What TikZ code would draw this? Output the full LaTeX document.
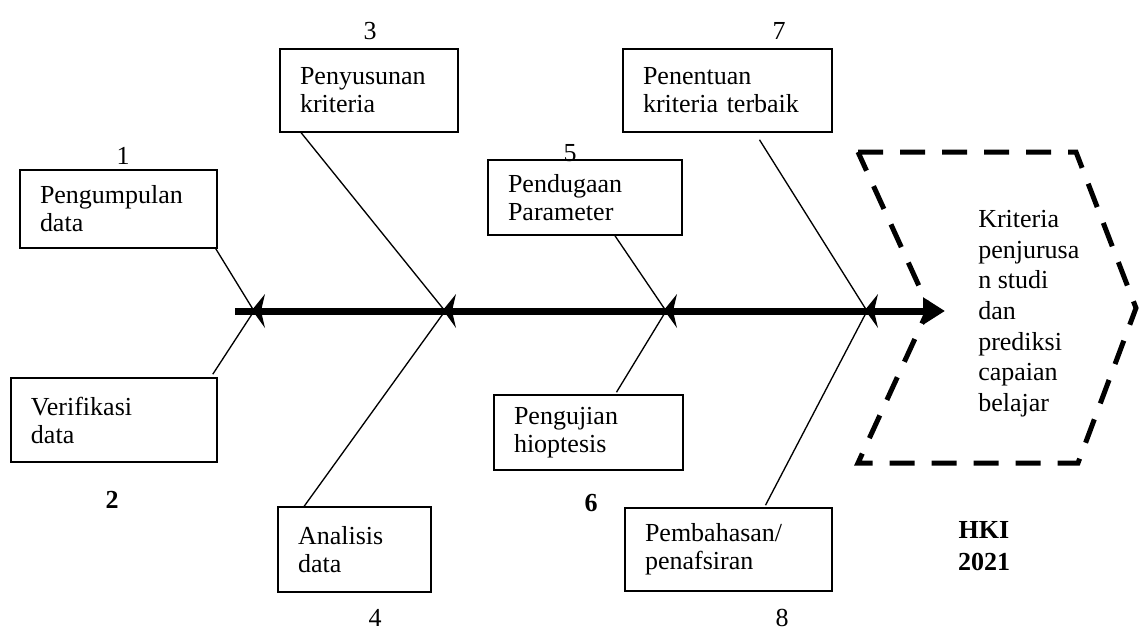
\documentclass[tikz,border=0pt]{standalone}
\usepackage{fontspec}
\setmainfont{Liberation Serif}
\usetikzlibrary{arrows.meta,calc}
\begin{document}
\begin{tikzpicture}[x=0.75pt,y=-0.75pt,
  every node/.style={font=\fontsize{19.5pt}{21pt}\selectfont},
  box/.style={draw,line width=1.2pt,align=left,inner xsep=15pt,inner ysep=2pt,anchor=center},
  bone/.style={line width=1pt},
  num/.style={inner sep=0pt},
  bnum/.style={inner sep=0pt,font=\fontsize{19.5pt}{24pt}\selectfont\bfseries},
  hexa/.style={line width=3.75pt,dash pattern=on 18.75pt off 12.75pt},
  spine/.style={line width=5.25pt}
]
\useasboundingbox (0,0) rectangle (1139,632);

% boxes
\node[box,text width=117.75pt,minimum height=58.5pt] (b1) at (118.5,209) {Pengumpulan\\data};
\node[box,text width=124.5pt,minimum height=63pt] (b2) at (114,420) {Verifikasi\\data};
\node[box,text width=103.5pt,minimum height=62.25pt] (b3) at (369,90.5) {Penyusunan\\kriteria};
\node[box,text width=84.75pt,minimum height=63.75pt] (b4) at (354.5,549.5) {Analisis\\data};
\node[box,text width=115.5pt,minimum height=56.25pt] (b5) at (585,197.5) {Pendugaan\\Parameter};
\node[box,text width=111.75pt,minimum height=56.25pt] (b6) at (588.5,432.5) {Pengujian\\hioptesis};
\node[box,text width=126.75pt,minimum height=62.25pt] (b7) at (727.5,90.5) {Penentuan\\kriteria terbaik};
\node[box,text width=125.25pt,minimum height=62.25pt] (b8) at (728.5,549.5) {Pembahasan/\\penafsiran};

% numbers
\node[num] (n1) at (123,156) {1};
\node[bnum] (n2) at (112,500) {2};
\node[num] (n3) at (370,31) {3};
\node[num] (n4) at (375,618) {4};
\node[num] (n5) at (570,153) {5};
\node[bnum] (n6) at (591,503) {6};
\node[num] (n7) at (779,31) {7};
\node[num] (n8) at (782,618) {8};
\node[bnum,align=center] (hki) at (984,546) {HKI\\2021};

% spine
\coordinate (s0) at (235,311);
\coordinate (s1) at (945,311);
\coordinate (j1) at (254,311);
\coordinate (j2) at (445,311);
\coordinate (j3) at (666,311);
\coordinate (j4) at (867,311);
\draw[spine,-{Triangle[length=16.5pt,width=19.5pt]}] (s0) -- (s1);

% bones
\draw[bone] ($(b1.south east)+(-2,0)$) -- (j1);
\draw[bone] ($(b2.north east)+(-5,-3)$) -- (j1);
\draw[bone] ($(b3.south west)+(22,0)$) -- (j2);
\draw[bone] ($(b4.north west)+(27,0)$) -- (j2);
\draw[bone] ($(b5.south)+(30,0)$) -- (j3);
\draw[bone] ($(b6.north)+(28,-2)$) -- (j3);
\draw[bone] ($(b7.south)+(32,7)$) -- (j4);
\draw[bone] ($(b8.north)+(37,-2)$) -- (j4);

% small left-pointing heads on the spine
\foreach \j in {j1,j2,j3,j4}{
  \fill ($(\j)+(-2,-1)$) -- ($(\j)+(11,-17)$) -- ($(\j)+(7,0)$) -- ($(\j)+(11,17)$) -- cycle;
}

% dashed hexagon
\coordinate (h1) at (858,152);
\coordinate (h2) at (1076,152);
\coordinate (h3) at (1136,308);
\coordinate (h4) at (1078,463);
\coordinate (h5) at (858,463);
\coordinate (h6) at (929,308);
\draw[hexa] (h1) -- (h2) -- (h3) -- (h4) -- (h5) -- (h6) -- cycle;
\node[anchor=north west,inner sep=0pt,align=left,font=\fontsize{19.5pt}{23pt}\selectfont] (res) at (978,210)
  {Kriteria\\penjurusa\\n studi\\dan\\prediksi\\capaian\\belajar};
\end{tikzpicture}
\end{document}
